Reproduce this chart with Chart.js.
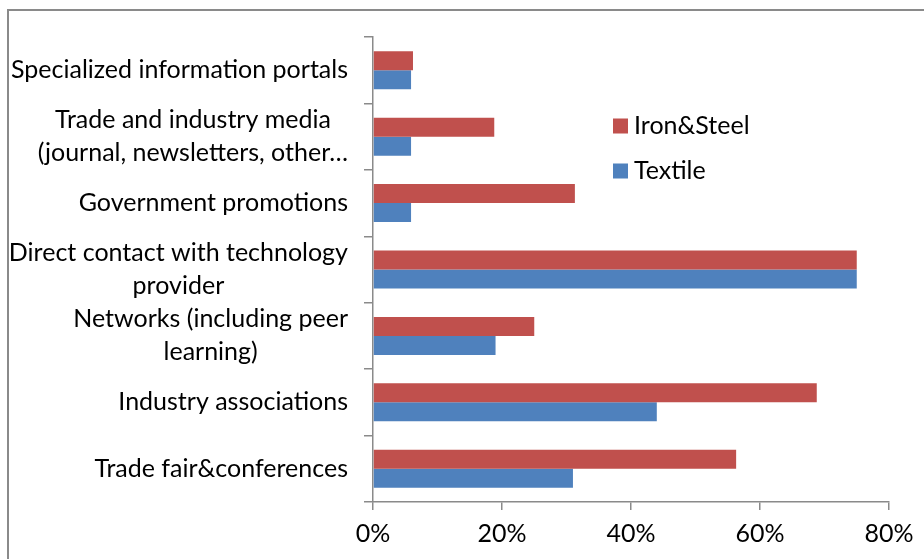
<!DOCTYPE html>
<html>
<head>
<meta charset="utf-8">
<script src="https://cdn.jsdelivr.net/npm/chart.js@4/dist/chart.umd.min.js"></script>
<style>
  html, body { margin: 0; padding: 0; background: #ffffff; }
  #wrap { position: relative; width: 924px; height: 559px; overflow: hidden; }
  #frame { position: absolute; left: 7px; top: 9px; width: 1000px; height: 1000px;
           border-left: 2px solid #8a8a8a; border-top: 2px solid #8a8a8a; box-sizing: border-box; }
  canvas { position: absolute; left: 0; top: 0; }
</style>
</head>
<body>
<div id="wrap">
  <div id="frame"></div>
  <canvas id="c" width="924" height="559"></canvas>
</div>
<script>
const categories = [
  ["Specialized information portals"],
  ["Trade and industry media", "(journal, newsletters, other\u2026"],
  ["Government promotions"],
  ["Direct contact with technology", "provider"],
  ["Networks (including peer", "learning)"],
  ["Industry associations"],
  ["Trade fair&conferences"]
];
const seriesNames = ["Iron&Steel", "Textile"];
const ironSteel = [6.2, 18.8, 31.3, 75, 25, 68.8, 56.3];
const textile   = [5.9, 5.9, 5.9, 75, 19, 44, 31];
const xTicks = [0, 20, 40, 60, 80];

const RED = "#C0504D", BLUE = "#4F81BD", AXIS = "#8a8a8a";
const FONT = "Lato";
const FSIZE = 25;

const labelPlugin = {
  id: "catLabels",
  afterDraw(chart) {
    const ctx = chart.ctx, ys = chart.scales.y;
    ctx.save();
    ctx.font = FSIZE + "px " + FONT;
    ctx.fillStyle = "#000";
    ctx.textBaseline = "middle";
    ctx.textAlign = "center";
    const right = ys.right - 25;
    const lh = 33;
    categories.forEach((lines, i) => {
      const y = ys.getPixelForTick(i);
      const w = Math.max(...lines.map(l => ctx.measureText(l).width));
      const cx = right - w / 2;
      lines.forEach((l, j) => {
        ctx.fillText(l, cx, y + (j - (lines.length - 1) / 2) * lh);
      });
    });
    ctx.restore();
  }
};

const legendPlugin = {
  id: "innerLegend",
  afterDraw(chart) {
    const ctx = chart.ctx, a = chart.chartArea;
    const colors = [RED, BLUE];
    ctx.save();
    ctx.font = FSIZE + "px " + FONT;
    ctx.textBaseline = "middle";
    ctx.textAlign = "left";
    seriesNames.forEach((n, i) => {
      const x = a.left + 240;
      const y = a.top + 89 + i * 45;
      ctx.fillStyle = colors[i];
      ctx.fillRect(x, y - 7.5, 15, 15);
      ctx.fillStyle = "#000";
      ctx.fillText(n, x + 21, y);
    });
    ctx.restore();
  }
};

new Chart(document.getElementById("c"), {
  type: "bar",
  data: {
    labels: categories,
    datasets: [
      { label: seriesNames[0], data: ironSteel, backgroundColor: RED, borderWidth: 0 },
      { label: seriesNames[1], data: textile, backgroundColor: BLUE, borderWidth: 0 }
    ]
  },
  options: {
    indexAxis: "y",
    responsive: false,
    animation: false,
    devicePixelRatio: 1,
    categoryPercentage: 0.572,
    barPercentage: 1.0,
    layout: { padding: { top: 37, right: 35, left: 0, bottom: 0 } },
    plugins: { legend: { display: false }, tooltip: { enabled: false } },
    scales: {
      x: {
        min: 0, max: 80,
        afterFit(s) { s.height = 57; },
        afterBuildTicks(s) { s.ticks = xTicks.map(v => ({ value: v })); },
        border: { color: AXIS, width: 1.5 },
        grid: { drawOnChartArea: false, drawTicks: true, tickLength: 8, color: AXIS, lineWidth: 1.5 },
        ticks: {
          font: { family: FONT, size: FSIZE },
          color: "#000",
          padding: 9,
          maxRotation: 0,
          callback: v => v + "%"
        }
      },
      y: {
        afterFit(s) { s.width = 373; },
        border: { color: AXIS, width: 1.5 },
        grid: { drawOnChartArea: false, drawTicks: true, tickLength: 9, color: AXIS, lineWidth: 1.5, offset: true },
        ticks: { display: false }
      }
    }
  },
  plugins: [labelPlugin, legendPlugin]
});
</script>
</body>
</html>
